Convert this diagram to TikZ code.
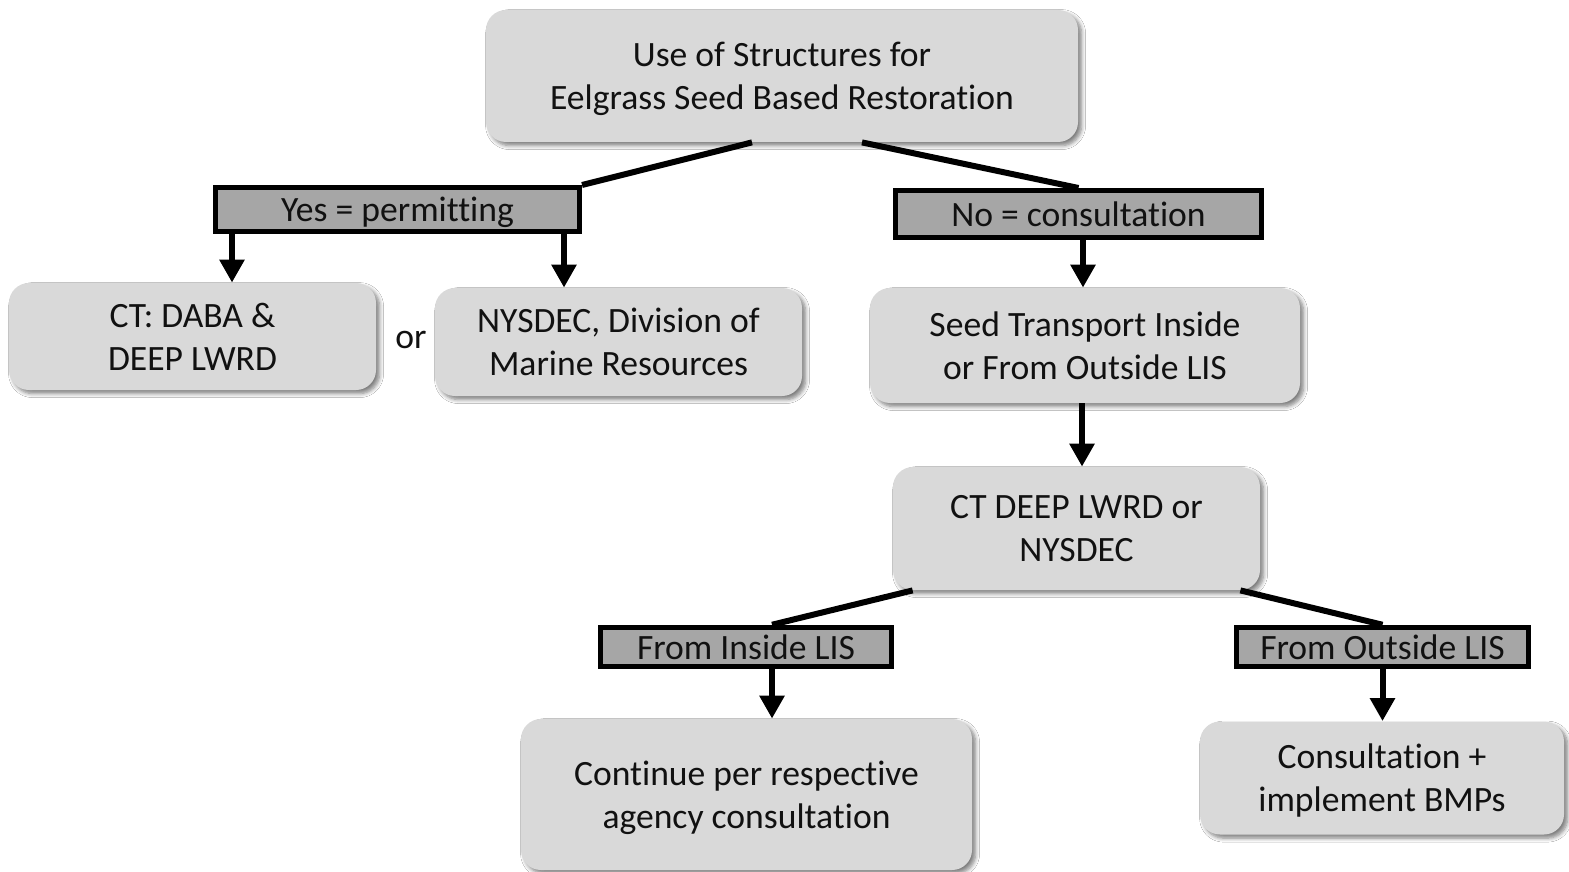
\documentclass[tikz,border=0pt]{standalone}
\usepackage{fontspec}
\setmainfont{Carlito}[Ligatures={NoCommon}]
\usetikzlibrary{arrows.meta,calc,shadows.blur}
\definecolor{boxgray}{HTML}{D9D9D9}
\definecolor{labgray}{HTML}{A6A6A6}
\definecolor{txt}{HTML}{111111}
\tikzset{
  box/.style={rounded corners=10pt, fill=boxgray, draw=none, align=center, inner sep=0pt,
    text=txt, font=\fontsize{17.8pt}{21.5pt}\selectfont,
    blur shadow={shadow xshift=1.8pt, shadow yshift=-1.8pt, shadow blur steps=6, shadow blur radius=2pt, shadow opacity=50}},
  lab/.style={draw=black, line width=2.5pt, fill=labgray, inner sep=0pt, align=center,
    text=txt, font=\fontsize{17.8pt}{21.5pt}\selectfont, text depth=0pt},
  lowtext/.style={text depth=0pt},
  conn/.style={line width=3pt, black},
  arr/.style={line width=3pt, black, -{Triangle[width=12pt,length=11.5pt]}},
}
\begin{document}
\begin{tikzpicture}[x=0.5pt,y=-0.5pt]
\useasboundingbox[fill=white] (0,0) rectangle (1569,872);

\node[box, lowtext, minimum width=296pt, minimum height=66pt] (top) at (782,76) {Use of Structures for\\Eelgrass Seed Based Restoration};
\node[lab, minimum width=182pt, minimum height=22pt] (yes) at (397.5,209.5) {Yes = permitting};
\node[lab, minimum width=183pt, minimum height=23.5pt] (no) at (1078.5,214) {No = consultation};
\node[box, minimum width=183.5pt, minimum height=53.5pt] (ct) at (192.5,336.5) {CT: DABA \&\\DEEP LWRD};
\node[text=txt, font=\fontsize{17.8pt}{21.5pt}\selectfont, inner sep=0pt] (or) at (411,340) {or};
\node[box, minimum width=183.5pt, minimum height=54pt] (nys) at (618.5,342) {NYSDEC, Division of\\Marine Resources};
\node[box, minimum width=215pt, minimum height=57.5pt] (seed) at (1085,345.5) {Seed Transport Inside\\or From Outside LIS};
\node[box, minimum width=183.5pt, minimum height=61.5pt] (ctdeep) at (1076.5,528.5) {CT DEEP LWRD or\\NYSDEC};
\node[lab, minimum width=145.5pt, minimum height=19.75pt] (fin) at (746,647) {From Inside LIS};
\node[lab, minimum width=146pt, minimum height=19.75pt] (fout) at (1382.5,647) {From Outside LIS};
\node[box, lowtext, minimum width=225.5pt, minimum height=75.5pt] (cont) at (746.5,794.5) {Continue per respective\\agency consultation};
\node[box, lowtext, minimum width=182pt, minimum height=56.5pt] (cons) at (1382,778) {Consultation +\\implement BMPs};

% branches
\draw[conn] ($(top.south)+(-30,0)$) -- (yes.north east);
\draw[conn] ($(top.south)+(80,0)$) -- (no.north);
\draw[conn] ($(ctdeep.south west)+(20,0)$) -- ($(fin.north)+(26,0)$);
\draw[conn] ($(ctdeep.south east)+(-20,0)$) -- (fout.north);

% arrows
\coordinate (a1) at ($(yes.south)+(-165.5,0)$);
\coordinate (a2) at ($(yes.south)+(166.5,0)$);
\coordinate (a3) at ($(no.south)+(4.5,0)$);
\coordinate (a4) at ($(seed.south)+(-3,0)$);
\coordinate (a5) at ($(fin.south)+(26,0)$);
\draw[arr] (a1) -- (a1 |- ct.north);
\draw[arr] (a2) -- (a2 |- nys.north);
\draw[arr] (a3) -- (a3 |- seed.north);
\draw[arr] (a4) -- (a4 |- ctdeep.north);
\draw[arr] (a5) -- (a5 |- cont.north);
\draw[arr] (fout.south) -- (fout.south |- cons.north);
\end{tikzpicture}
\end{document}
